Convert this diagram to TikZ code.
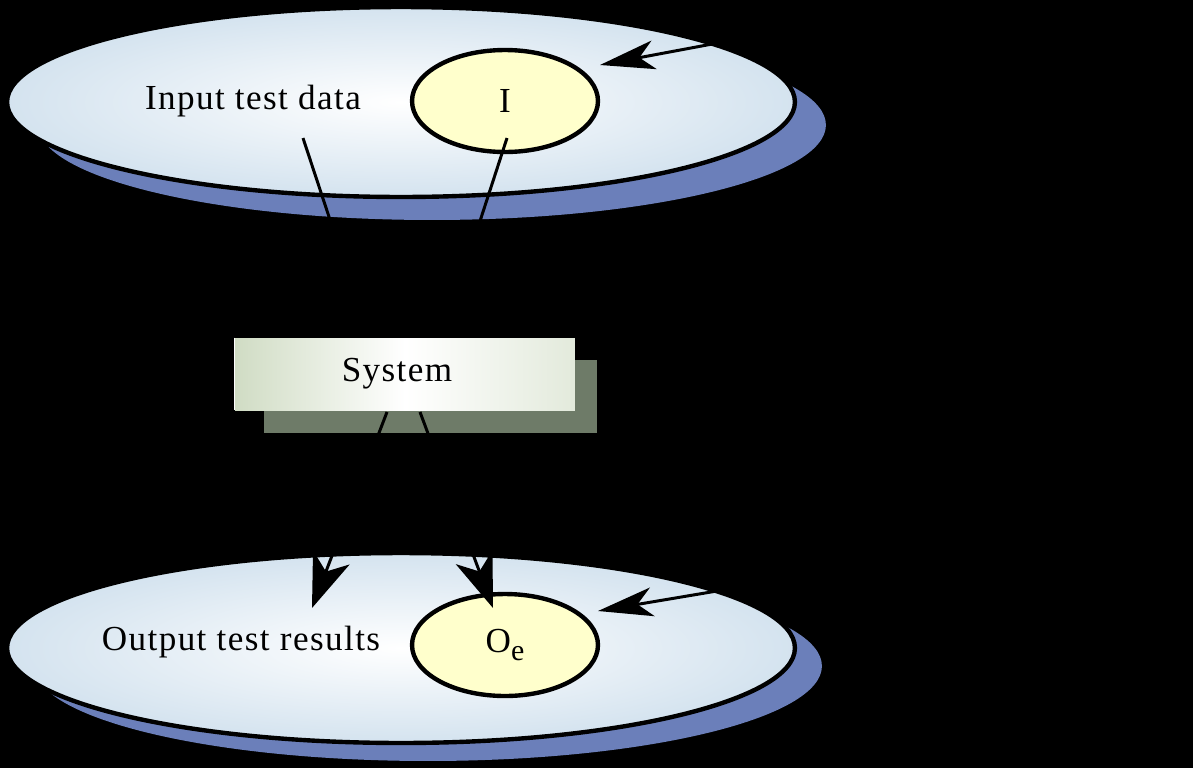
\documentclass[tikz,border=0pt]{standalone}
\usepackage{fontspec}
\setmainfont{Liberation Serif}[LetterSpace=4]
\usetikzlibrary{arrows.meta,shapes.geometric}
\definecolor{ellfill}{HTML}{D4E3EF}
\definecolor{ellshadow}{HTML}{6B7FBA}
\definecolor{smallfill}{HTML}{FFFFCC}
\definecolor{boxfill}{HTML}{D0DCC4}
\definecolor{boxshadow}{HTML}{6E7B68}
\begin{document}
\begin{tikzpicture}[x=0.02cm,y=-0.02cm,
  bigell/.style={ellipse, inner sep=0pt, minimum width=15.76cm, minimum height=3.8cm, draw=black, line width=2.5pt, inner color=white, outer color=ellfill},
  bigshadow/.style={ellipse, inner sep=0pt, minimum width=15.76cm, minimum height=3.8cm, fill=ellshadow},
  smallell/.style={ellipse, inner sep=0pt, minimum width=3.72cm, minimum height=2.04cm, draw=black, line width=2.5pt, fill=smallfill, font=\fontsize{20}{22}\selectfont},
  lbl/.style={font=\fontsize{20}{22}\selectfont, inner sep=0pt},
  note/.style={font=\fontsize{20}{21.5}\selectfont, text=black, align=left, anchor=north west, inner sep=0pt},
  conn/.style={draw=black, line width=1.7pt},
  bigtip/.style={-{Stealth[length=1.08cm, width=0.78cm, inset=0.3cm]}},
  sidetip/.style={-{Stealth[length=1.1cm, width=0.58cm, inset=0.3cm]}}]
\fill[black] (0,0) rectangle (1193,768);
\useasboundingbox (0,0) rectangle (1193,768);
% top ellipse
\node[bigshadow] (topsh) at (432,125) {};
\node[bigell] (top) at (401,102) {};
\node[smallell] (I) at (505,101) {I};
\node[lbl] (intext) at (253,101) {Input test data};
% bottom ellipse
\node[bigshadow] (botsh) at (428,666) {};
\node[bigell] (bot) at (401,648) {};
\node[smallell] (Oe) at (505,645) {O\raisebox{-0.45ex}{\fontsize{17}{17}\selectfont e}};
\node[lbl] (outtext) at (241,642) {Output test results};
% system box
\fill[boxshadow] (264,360) rectangle (597,433);
\node[draw=none, minimum width=6.8cm, minimum height=1.44cm, inner sep=0pt,
  left color=boxfill, right color=boxfill!60!white, middle color=white, font=\fontsize{20}{22}\selectfont] (sys) at (405,374) {\hspace*{-0.32cm}System};
\draw[white, line width=0.6pt] (sys.north west) -- (sys.south west);
% notes
\node[note] (inputs) at (835,8) {Inputs causing\\anomalous\\behaviour};
\node[note] (outputs) at (835,553) {Outputs which reveal\\the presence of\\defects};
% connectors
\coordinate (a1) at (303,138);
\coordinate (a2) at (368,335);
\coordinate (b1) at (507,138);
\coordinate (b2) at (443,335);
\coordinate (c1) at (387,412);
\coordinate (c2) at (312,608);
\coordinate (d1) at (420,412);
\coordinate (d2) at (493,608);
\draw[conn, bigtip] (a1) -- (a2);
\draw[conn, bigtip] (b1) -- (b2);
\draw[conn, bigtip] (c1) -- (c2);
\draw[conn, bigtip] (d1) -- (d2);
\coordinate (e1) at (830,22);
\coordinate (e2) at (600,65);
\coordinate (f1) at (830,572);
\coordinate (f2) at (598,611);
\draw[conn, sidetip] (e1) -- (e2);
\draw[conn, sidetip] (f1) -- (f2);
\end{tikzpicture}
\end{document}
